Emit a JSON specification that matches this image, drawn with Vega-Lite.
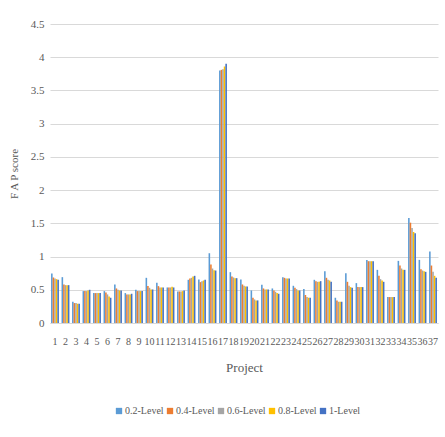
{
  "$schema": "https://vega.github.io/schema/vega-lite/v6.json",
  "width": 388,
  "height": 299,
  "autosize": {"type": "none"},
  "padding": {"left": 50, "top": 24, "right": 7, "bottom": 114},
  "background": "white",
  "config": {
    "view": {"stroke": null},
    "axis": {"labelColor": "#595959", "titleColor": "#595959", "labelFont": "Liberation Serif", "titleFont": "Liberation Serif", "titleFontWeight": "normal"},
    "legend": {"labelColor": "#595959", "labelFont": "Liberation Serif"}
  },
  "data": {
    "values": [
      {"Project": "1", "Level": "0.2-Level", "FAP": 0.745}, {"Project": "1", "Level": "0.4-Level", "FAP": 0.685}, {"Project": "1", "Level": "0.6-Level", "FAP": 0.67}, {"Project": "1", "Level": "0.8-Level", "FAP": 0.66}, {"Project": "1", "Level": "1-Level", "FAP": 0.65},
      {"Project": "2", "Level": "0.2-Level", "FAP": 0.69}, {"Project": "2", "Level": "0.4-Level", "FAP": 0.58}, {"Project": "2", "Level": "0.6-Level", "FAP": 0.57}, {"Project": "2", "Level": "0.8-Level", "FAP": 0.57}, {"Project": "2", "Level": "1-Level", "FAP": 0.57},
      {"Project": "3", "Level": "0.2-Level", "FAP": 0.32}, {"Project": "3", "Level": "0.4-Level", "FAP": 0.3}, {"Project": "3", "Level": "0.6-Level", "FAP": 0.3}, {"Project": "3", "Level": "0.8-Level", "FAP": 0.29}, {"Project": "3", "Level": "1-Level", "FAP": 0.29},
      {"Project": "4", "Level": "0.2-Level", "FAP": 0.48}, {"Project": "4", "Level": "0.4-Level", "FAP": 0.48}, {"Project": "4", "Level": "0.6-Level", "FAP": 0.48}, {"Project": "4", "Level": "0.8-Level", "FAP": 0.49}, {"Project": "4", "Level": "1-Level", "FAP": 0.5},
      {"Project": "5", "Level": "0.2-Level", "FAP": 0.45}, {"Project": "5", "Level": "0.4-Level", "FAP": 0.45}, {"Project": "5", "Level": "0.6-Level", "FAP": 0.45}, {"Project": "5", "Level": "0.8-Level", "FAP": 0.45}, {"Project": "5", "Level": "1-Level", "FAP": 0.45},
      {"Project": "6", "Level": "0.2-Level", "FAP": 0.48}, {"Project": "6", "Level": "0.4-Level", "FAP": 0.46}, {"Project": "6", "Level": "0.6-Level", "FAP": 0.43}, {"Project": "6", "Level": "0.8-Level", "FAP": 0.4}, {"Project": "6", "Level": "1-Level", "FAP": 0.38},
      {"Project": "7", "Level": "0.2-Level", "FAP": 0.58}, {"Project": "7", "Level": "0.4-Level", "FAP": 0.52}, {"Project": "7", "Level": "0.6-Level", "FAP": 0.5}, {"Project": "7", "Level": "0.8-Level", "FAP": 0.49}, {"Project": "7", "Level": "1-Level", "FAP": 0.49},
      {"Project": "8", "Level": "0.2-Level", "FAP": 0.45}, {"Project": "8", "Level": "0.4-Level", "FAP": 0.43}, {"Project": "8", "Level": "0.6-Level", "FAP": 0.43}, {"Project": "8", "Level": "0.8-Level", "FAP": 0.43}, {"Project": "8", "Level": "1-Level", "FAP": 0.44},
      {"Project": "9", "Level": "0.2-Level", "FAP": 0.5}, {"Project": "9", "Level": "0.4-Level", "FAP": 0.48}, {"Project": "9", "Level": "0.6-Level", "FAP": 0.48}, {"Project": "9", "Level": "0.8-Level", "FAP": 0.48}, {"Project": "9", "Level": "1-Level", "FAP": 0.48},
      {"Project": "10", "Level": "0.2-Level", "FAP": 0.68}, {"Project": "10", "Level": "0.4-Level", "FAP": 0.555}, {"Project": "10", "Level": "0.6-Level", "FAP": 0.53}, {"Project": "10", "Level": "0.8-Level", "FAP": 0.505}, {"Project": "10", "Level": "1-Level", "FAP": 0.505},
      {"Project": "11", "Level": "0.2-Level", "FAP": 0.605}, {"Project": "11", "Level": "0.4-Level", "FAP": 0.555}, {"Project": "11", "Level": "0.6-Level", "FAP": 0.535}, {"Project": "11", "Level": "0.8-Level", "FAP": 0.535}, {"Project": "11", "Level": "1-Level", "FAP": 0.535},
      {"Project": "12", "Level": "0.2-Level", "FAP": 0.535}, {"Project": "12", "Level": "0.4-Level", "FAP": 0.535}, {"Project": "12", "Level": "0.6-Level", "FAP": 0.535}, {"Project": "12", "Level": "0.8-Level", "FAP": 0.545}, {"Project": "12", "Level": "1-Level", "FAP": 0.535},
      {"Project": "13", "Level": "0.2-Level", "FAP": 0.475}, {"Project": "13", "Level": "0.4-Level", "FAP": 0.475}, {"Project": "13", "Level": "0.6-Level", "FAP": 0.475}, {"Project": "13", "Level": "0.8-Level", "FAP": 0.48}, {"Project": "13", "Level": "1-Level", "FAP": 0.49},
      {"Project": "14", "Level": "0.2-Level", "FAP": 0.65}, {"Project": "14", "Level": "0.4-Level", "FAP": 0.67}, {"Project": "14", "Level": "0.6-Level", "FAP": 0.68}, {"Project": "14", "Level": "0.8-Level", "FAP": 0.7}, {"Project": "14", "Level": "1-Level", "FAP": 0.71},
      {"Project": "15", "Level": "0.2-Level", "FAP": 0.655}, {"Project": "15", "Level": "0.4-Level", "FAP": 0.615}, {"Project": "15", "Level": "0.6-Level", "FAP": 0.63}, {"Project": "15", "Level": "0.8-Level", "FAP": 0.64}, {"Project": "15", "Level": "1-Level", "FAP": 0.65},
      {"Project": "16", "Level": "0.2-Level", "FAP": 1.05}, {"Project": "16", "Level": "0.4-Level", "FAP": 0.88}, {"Project": "16", "Level": "0.6-Level", "FAP": 0.82}, {"Project": "16", "Level": "0.8-Level", "FAP": 0.795}, {"Project": "16", "Level": "1-Level", "FAP": 0.79},
      {"Project": "17", "Level": "0.2-Level", "FAP": 3.8}, {"Project": "17", "Level": "0.4-Level", "FAP": 3.81}, {"Project": "17", "Level": "0.6-Level", "FAP": 3.82}, {"Project": "17", "Level": "0.8-Level", "FAP": 3.86}, {"Project": "17", "Level": "1-Level", "FAP": 3.9},
      {"Project": "18", "Level": "0.2-Level", "FAP": 0.765}, {"Project": "18", "Level": "0.4-Level", "FAP": 0.7}, {"Project": "18", "Level": "0.6-Level", "FAP": 0.685}, {"Project": "18", "Level": "0.8-Level", "FAP": 0.675}, {"Project": "18", "Level": "1-Level", "FAP": 0.675},
      {"Project": "19", "Level": "0.2-Level", "FAP": 0.655}, {"Project": "19", "Level": "0.4-Level", "FAP": 0.58}, {"Project": "19", "Level": "0.6-Level", "FAP": 0.56}, {"Project": "19", "Level": "0.8-Level", "FAP": 0.55}, {"Project": "19", "Level": "1-Level", "FAP": 0.55},
      {"Project": "20", "Level": "0.2-Level", "FAP": 0.49}, {"Project": "20", "Level": "0.4-Level", "FAP": 0.38}, {"Project": "20", "Level": "0.6-Level", "FAP": 0.355}, {"Project": "20", "Level": "0.8-Level", "FAP": 0.34}, {"Project": "20", "Level": "1-Level", "FAP": 0.34},
      {"Project": "21", "Level": "0.2-Level", "FAP": 0.575}, {"Project": "21", "Level": "0.4-Level", "FAP": 0.52}, {"Project": "21", "Level": "0.6-Level", "FAP": 0.505}, {"Project": "21", "Level": "0.8-Level", "FAP": 0.505}, {"Project": "21", "Level": "1-Level", "FAP": 0.505},
      {"Project": "22", "Level": "0.2-Level", "FAP": 0.52}, {"Project": "22", "Level": "0.4-Level", "FAP": 0.49}, {"Project": "22", "Level": "0.6-Level", "FAP": 0.47}, {"Project": "22", "Level": "0.8-Level", "FAP": 0.45}, {"Project": "22", "Level": "1-Level", "FAP": 0.44},
      {"Project": "23", "Level": "0.2-Level", "FAP": 0.69}, {"Project": "23", "Level": "0.4-Level", "FAP": 0.68}, {"Project": "23", "Level": "0.6-Level", "FAP": 0.67}, {"Project": "23", "Level": "0.8-Level", "FAP": 0.67}, {"Project": "23", "Level": "1-Level", "FAP": 0.67},
      {"Project": "24", "Level": "0.2-Level", "FAP": 0.56}, {"Project": "24", "Level": "0.4-Level", "FAP": 0.53}, {"Project": "24", "Level": "0.6-Level", "FAP": 0.51}, {"Project": "24", "Level": "0.8-Level", "FAP": 0.49}, {"Project": "24", "Level": "1-Level", "FAP": 0.49},
      {"Project": "25", "Level": "0.2-Level", "FAP": 0.51}, {"Project": "25", "Level": "0.4-Level", "FAP": 0.42}, {"Project": "25", "Level": "0.6-Level", "FAP": 0.39}, {"Project": "25", "Level": "0.8-Level", "FAP": 0.38}, {"Project": "25", "Level": "1-Level", "FAP": 0.38},
      {"Project": "26", "Level": "0.2-Level", "FAP": 0.65}, {"Project": "26", "Level": "0.4-Level", "FAP": 0.63}, {"Project": "26", "Level": "0.6-Level", "FAP": 0.62}, {"Project": "26", "Level": "0.8-Level", "FAP": 0.62}, {"Project": "26", "Level": "1-Level", "FAP": 0.63},
      {"Project": "27", "Level": "0.2-Level", "FAP": 0.78}, {"Project": "27", "Level": "0.4-Level", "FAP": 0.68}, {"Project": "27", "Level": "0.6-Level", "FAP": 0.65}, {"Project": "27", "Level": "0.8-Level", "FAP": 0.64}, {"Project": "27", "Level": "1-Level", "FAP": 0.62},
      {"Project": "28", "Level": "0.2-Level", "FAP": 0.38}, {"Project": "28", "Level": "0.4-Level", "FAP": 0.34}, {"Project": "28", "Level": "0.6-Level", "FAP": 0.32}, {"Project": "28", "Level": "0.8-Level", "FAP": 0.32}, {"Project": "28", "Level": "1-Level", "FAP": 0.32},
      {"Project": "29", "Level": "0.2-Level", "FAP": 0.75}, {"Project": "29", "Level": "0.4-Level", "FAP": 0.62}, {"Project": "29", "Level": "0.6-Level", "FAP": 0.56}, {"Project": "29", "Level": "0.8-Level", "FAP": 0.54}, {"Project": "29", "Level": "1-Level", "FAP": 0.53},
      {"Project": "30", "Level": "0.2-Level", "FAP": 0.6}, {"Project": "30", "Level": "0.4-Level", "FAP": 0.54}, {"Project": "30", "Level": "0.6-Level", "FAP": 0.54}, {"Project": "30", "Level": "0.8-Level", "FAP": 0.54}, {"Project": "30", "Level": "1-Level", "FAP": 0.54},
      {"Project": "31", "Level": "0.2-Level", "FAP": 0.95}, {"Project": "31", "Level": "0.4-Level", "FAP": 0.93}, {"Project": "31", "Level": "0.6-Level", "FAP": 0.93}, {"Project": "31", "Level": "0.8-Level", "FAP": 0.93}, {"Project": "31", "Level": "1-Level", "FAP": 0.93},
      {"Project": "32", "Level": "0.2-Level", "FAP": 0.8}, {"Project": "32", "Level": "0.4-Level", "FAP": 0.71}, {"Project": "32", "Level": "0.6-Level", "FAP": 0.66}, {"Project": "32", "Level": "0.8-Level", "FAP": 0.64}, {"Project": "32", "Level": "1-Level", "FAP": 0.62},
      {"Project": "33", "Level": "0.2-Level", "FAP": 0.39}, {"Project": "33", "Level": "0.4-Level", "FAP": 0.39}, {"Project": "33", "Level": "0.6-Level", "FAP": 0.39}, {"Project": "33", "Level": "0.8-Level", "FAP": 0.39}, {"Project": "33", "Level": "1-Level", "FAP": 0.39},
      {"Project": "34", "Level": "0.2-Level", "FAP": 0.935}, {"Project": "34", "Level": "0.4-Level", "FAP": 0.865}, {"Project": "34", "Level": "0.6-Level", "FAP": 0.82}, {"Project": "34", "Level": "0.8-Level", "FAP": 0.8}, {"Project": "34", "Level": "1-Level", "FAP": 0.8},
      {"Project": "35", "Level": "0.2-Level", "FAP": 1.58}, {"Project": "35", "Level": "0.4-Level", "FAP": 1.51}, {"Project": "35", "Level": "0.6-Level", "FAP": 1.43}, {"Project": "35", "Level": "0.8-Level", "FAP": 1.37}, {"Project": "35", "Level": "1-Level", "FAP": 1.35},
      {"Project": "36", "Level": "0.2-Level", "FAP": 0.95}, {"Project": "36", "Level": "0.4-Level", "FAP": 0.81}, {"Project": "36", "Level": "0.6-Level", "FAP": 0.79}, {"Project": "36", "Level": "0.8-Level", "FAP": 0.78}, {"Project": "36", "Level": "1-Level", "FAP": 0.77},
      {"Project": "37", "Level": "0.2-Level", "FAP": 1.075}, {"Project": "37", "Level": "0.4-Level", "FAP": 0.865}, {"Project": "37", "Level": "0.6-Level", "FAP": 0.77}, {"Project": "37", "Level": "0.8-Level", "FAP": 0.71}, {"Project": "37", "Level": "1-Level", "FAP": 0.68}
    ]
  },
  "mark": {"type": "bar"},
  "encoding": {
    "x": {
      "field": "Project", "type": "ordinal", "sort": null,
      "scale": {"paddingInner": 0.25, "paddingOuter": 0.1},
      "axis": {"title": "Project", "labelAngle": 0, "labelFontSize": 10, "labelPadding": 13, "ticks": false, "domainColor": "#d9d9d9", "titleFontSize": 13, "titlePadding": 15}
    },
    "xOffset": {"field": "Level", "type": "nominal", "sort": ["0.2-Level", "0.4-Level", "0.6-Level", "0.8-Level", "1-Level"]},
    "y": {
      "field": "FAP", "type": "quantitative",
      "scale": {"domain": [0, 4.5]},
      "axis": {"title": "F A P  score", "values": [0, 0.5, 1, 1.5, 2, 2.5, 3, 3.5, 4, 4.5], "format": "~g", "labelFontSize": 11, "labelPadding": 6, "ticks": false, "domain": false, "gridColor": "#d9d9d9", "titleFontSize": 11, "titlePadding": 11}
    },
    "color": {
      "field": "Level", "type": "nominal",
      "scale": {"domain": ["0.2-Level", "0.4-Level", "0.6-Level", "0.8-Level", "1-Level"], "range": ["#5B9BD5", "#ED7D31", "#A5A5A5", "#FFC000", "#4472C4"]},
      "legend": {"title": null, "orient": "none", "direction": "horizontal", "legendX": 64, "legendY": 382, "symbolType": "square", "symbolSize": 40, "symbolStrokeWidth": 0, "labelFontSize": 10, "columnPadding": 1, "labelOffset": 1}
    }
  }
}
